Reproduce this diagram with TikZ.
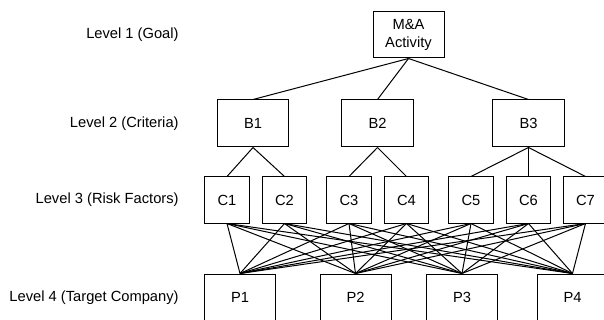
\documentclass[tikz,border=0pt]{standalone}
\usepackage{fontspec}
\setmainfont{Liberation Sans}
\begin{document}
\begin{tikzpicture}[x=0.5pt,y=-0.5pt,
  every node/.style={font=\fontsize{7.35}{8.6}\selectfont},
  box/.style={draw, line width=0.5pt, rectangle, inner sep=0pt, align=center},
  bbox/.style={box, minimum width=35.75pt, minimum height=23.5pt},
  cbox/.style={box, minimum width=22.25pt, minimum height=23pt},
  pbox/.style={box, minimum width=35.5pt, minimum height=23.5pt},
  lvl/.style={anchor=east, inner sep=0pt},
  link/.style={line width=0.5pt}]
\useasboundingbox (0,0) rectangle (604,320);
\clip (0,0) rectangle (604,320);
% level labels
\node[lvl] (l1) at (179,35) {Level 1 (Goal)};
\node[lvl] (l2) at (179,123.5) {Level 2 (Criteria)};
\node[lvl] (l3) at (179,200) {Level 3 (Risk Factors)};
\node[lvl] (l4) at (179,297.5) {Level 4 (Target Company)};
% goal
\node[box, minimum width=35.5pt, minimum height=23pt] (A) at (408.5,35) {M\&A\\Activity};
% criteria
\node[bbox] (B1) at (253,123.5) {B1};
\node[bbox] (B2) at (377.5,123.5) {B2};
\node[bbox] (B3) at (528.5,123.5) {B3};
% risk factors
\node[cbox] (C1) at (227,200) {C1};
\node[cbox] (C2) at (284.5,200) {C2};
\node[cbox] (C3) at (349,200) {C3};
\node[cbox] (C4) at (406.5,200) {C4};
\node[cbox] (C5) at (471,200) {C5};
\node[cbox] (C6) at (528.5,200) {C6};
\node[cbox] (C7) at (585.5,200) {C7};
% target companies
\node[pbox] (P1) at (240,297.5) {P1};
\node[pbox] (P2) at (355.5,297.5) {P2};
\node[pbox] (P3) at (462,297.5) {P3};
\node[pbox] (P4) at (572.5,297.5) {P4};
% links
\foreach \b in {B1,B2,B3} \draw[link] (A.south) -- (\b.north);
\draw[link] (B1.south) -- (C1.north);
\draw[link] (B1.south) -- (C2.north);
\draw[link] (B2.south) -- (C3.north);
\draw[link] (B2.south) -- (C4.north);
\draw[link] (B3.south) -- (C5.north);
\draw[link] (B3.south) -- (C6.north);
\draw[link] (B3.south) -- (C7.north);
\foreach \c in {C1,C2,C3,C4,C5,C6,C7}
  \foreach \p in {P1,P2,P3,P4}
    \draw[link] (\c.south) -- (\p.north);
\end{tikzpicture}
\end{document}
